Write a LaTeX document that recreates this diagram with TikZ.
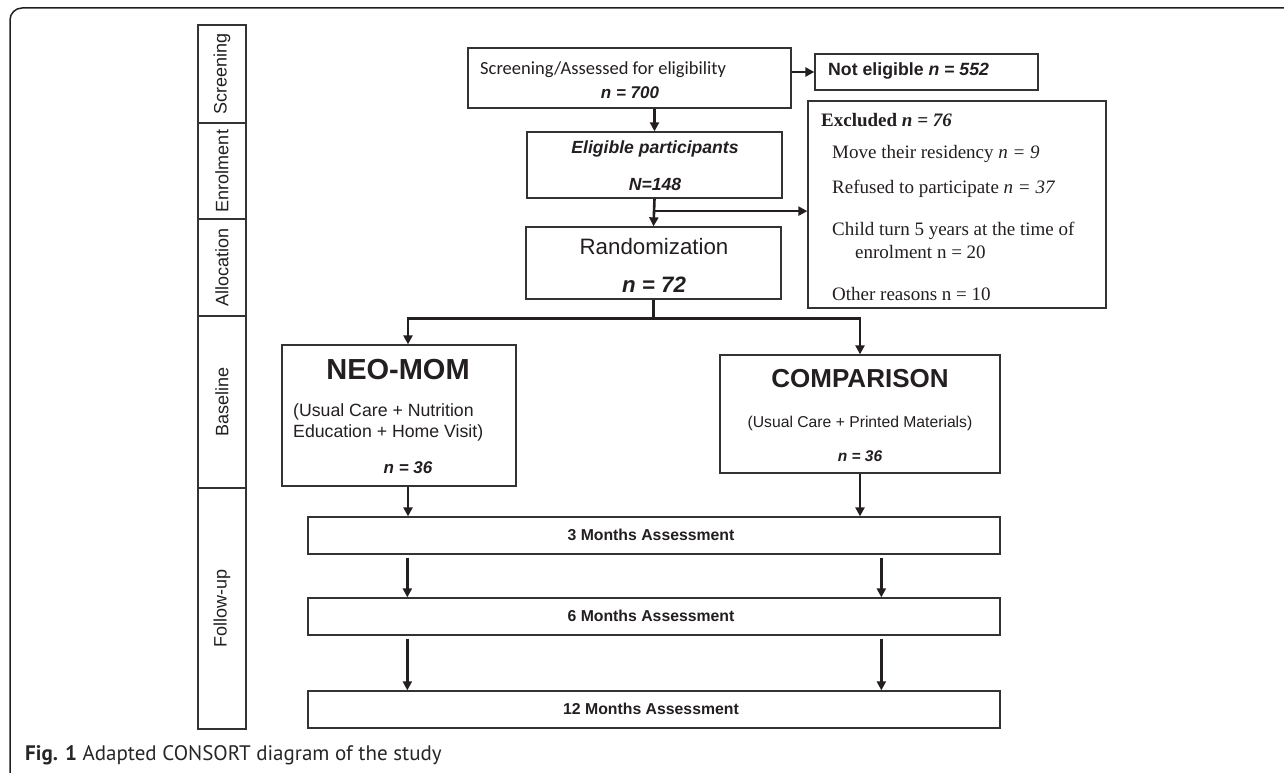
\documentclass[tikz,border=0pt]{standalone}
\usepackage{fontspec}
\setmainfont{Liberation Sans}
\newfontfamily\calfont{Carlito}
\newfontfamily\serfont{Liberation Serif}
\newfontfamily\capfont{PT Sans}
\usetikzlibrary{arrows.meta,calc}
\definecolor{ink}{HTML}{231F20}
\definecolor{edgec}{HTML}{333333}
\newcommand{\fs}[1]{\fontsize{#1}{#1}\selectfont}
\begin{document}
\begin{tikzpicture}[x=1pt,y=-1pt,
  box/.style={draw=edgec,line width=1.3pt,inner sep=0pt,fill=white},
  stagebox/.style={draw=edgec,line width=1.3pt,inner sep=0pt,minimum width=48pt},
  txt/.style={inner sep=0pt,text=ink},
  arr/.style={draw=ink,line width=2.6pt,-{Triangle[length=9pt,width=9pt]}},
  ln/.style={draw=ink,line width=2.6pt}]
\useasboundingbox (0,0) rectangle (1284,773);
% frame
\draw[ink,line width=1.5pt,rounded corners=12pt] (1290,8) -- (10,8) -- (10,780);
% stage column
\node[stagebox,minimum height=98pt] (st1) at (222,74) {};
\node[stagebox,minimum height=96pt] (st2) at (222,171) {};
\node[stagebox,minimum height=97pt] (st3) at (222,267.5) {};
\node[stagebox,minimum height=172pt] (st4) at (222,402) {};
\node[stagebox,minimum height=241pt] (st5) at (222,608.5) {};
\node[txt,rotate=90,font=\fs{18}] (st1t) at (st1) {Screening};
\node[txt,rotate=90,font=\fs{18}] (st2t) at (st2) {Enrolment};
\node[txt,rotate=90,font=\fs{18}] (st3t) at (st3) {Allocation};
\node[txt,rotate=90,font=\fs{18}] (st4t) at (st4) {Baseline};
\node[txt,rotate=90,font=\fs{18}] (st5t) at (st5) {Follow-up};
% screening
\node[box,minimum width=323pt,minimum height=60pt] (scr) at (629.5,78) {};
\node[txt,anchor=west,font=\calfont\fs{18.5}] (scrt) at (480,70) {Screening/Assessed for eligibility};
\node[txt,font=\bfseries\itshape\fs{17}] (scrn) at (630,93) {n = 700};
% not eligible
\node[box,minimum width=223pt,minimum height=36pt] (nel) at (926.5,72) {};
\node[txt,anchor=west,font=\bfseries\fs{17.7}] (nelt) at (828,71) {Not eligible \textit{n = 552}};
% excluded
\node[box,minimum width=298pt,minimum height=207pt] (exc) at (957,204.5) {};
\node[txt,anchor=west,font=\serfont\fs{19}] (ex0) at (821,120) {\textbf{Excluded \textit{n = 76}}};
\node[txt,anchor=west,font=\serfont\fs{19}] (ex1) at (832,154) {Move their residency \textit{n = 9}};
\node[txt,anchor=west,font=\serfont\fs{19}] (ex2) at (832,189) {Refused to participate \textit{n = 37}};
\node[txt,anchor=west,font=\serfont\fs{19}] (ex3) at (832,231) {Child turn 5 years at the time of};
\node[txt,anchor=west,font=\serfont\fs{19}] (ex4) at (855,252) {enrolment n = 20};
\node[txt,anchor=west,font=\serfont\fs{19}] (ex5) at (832,294) {Other reasons n = 10};
% eligible
\node[box,minimum width=255pt,minimum height=66pt] (eli) at (654.5,165) {};
\node[txt,font=\bfseries\itshape\fs{17.6}] (elit) at (655,149) {Eligible participants};
\node[txt,font=\bfseries\itshape\fs{17.6}] (elin) at (655,184) {N=148};
% randomization
\node[box,minimum width=255pt,minimum height=72pt] (ran) at (653.5,263) {};
\node[txt,font=\fs{22.3}] (rant) at (654,247) {Randomization};
\node[txt,font=\bfseries\itshape\fs{22.3}] (rann) at (654,285) {n = 72};
% NEO-MOM
\node[box,minimum width=234pt,minimum height=141pt] (neo) at (399,415.5) {};
\node[txt,font=\bfseries\fs{29}] (neot) at (398,370) {NEO-MOM};
\node[txt,anchor=west,font=\fs{17.7}] (neo1) at (293,412) {(Usual Care + Nutrition};
\node[txt,anchor=west,font=\fs{17.7}] (neo2) at (293,433) {Education + Home Visit)};
\node[txt,font=\bfseries\itshape\fs{17}] (neon) at (408,468) {n = 36};
% COMPARISON
\node[box,minimum width=280pt,minimum height=118pt] (com) at (860,414) {};
\node[txt,font=\bfseries\fs{26}] (comt) at (860,379) {COMPARISON};
\node[txt,font=\fs{15.7}] (com1) at (860,423) {(Usual Care + Printed Materials)};
\node[txt,font=\bfseries\itshape\fs{15.5}] (comn) at (860,456) {n = 36};
% follow-up boxes
\node[box,minimum width=692pt,minimum height=37pt] (m3) at (654,535.5) {};
\node[txt,font=\bfseries\fs{15.8}] (m3t) at (651,535) {3 Months Assessment};
\node[box,minimum width=692pt,minimum height=37pt] (m6) at (654,616.5) {};
\node[txt,font=\bfseries\fs{15.8}] (m6t) at (651,616) {6 Months Assessment};
\node[box,minimum width=692pt,minimum height=37pt] (m12) at (654,709.5) {};
\node[txt,font=\bfseries\fs{15.8}] (m12t) at (651,709) {12 Months Assessment};
% caption
\node[txt,anchor=west,font=\capfont\fs{21},text=black!85] (cap) at (25,755) {\textbf{Fig. 1} Adapted CONSORT diagram of the study};
% connectors
\draw[arr] (scr.east |- nel.west) -- (nel.west);
\draw[arr] (eli.north |- scr.south) -- (eli.north);
\draw[arr] (eli.south) -- (ran.north);
\coordinate (br) at ($(eli.south)!0.45!(ran.north)$);
\draw[arr] (br) -- (br -| exc.west);
\coordinate (sp) at ($(ran.south)+(0,19)$);
\coordinate (nin) at ($(neo.north)+(9,0)$);
\draw[ln] (ran.south) -- (sp);
\draw[arr] (sp) -| (nin);
\draw[arr] (sp) -| (com.north);
\coordinate (nout) at ($(neo.south)+(9,0)$);
\draw[arr] (nout) -- (nout |- m3.north);
\draw[arr] (com.south) -- (com.south |- m3.north);
\coordinate (l1) at ($(m3.south west)+(100,3)$);
\coordinate (r1) at ($(m3.south west)+(574,3)$);
\draw[arr] (l1) -- (l1 |- m6.north);
\draw[arr] (r1) -- (r1 |- m6.north);
\coordinate (l2) at ($(m6.south west)+(100,3)$);
\coordinate (r2) at ($(m6.south west)+(574,3)$);
\draw[arr] (l2) -- (l2 |- m12.north);
\draw[arr] (r2) -- (r2 |- m12.north);
\end{tikzpicture}
\end{document}
